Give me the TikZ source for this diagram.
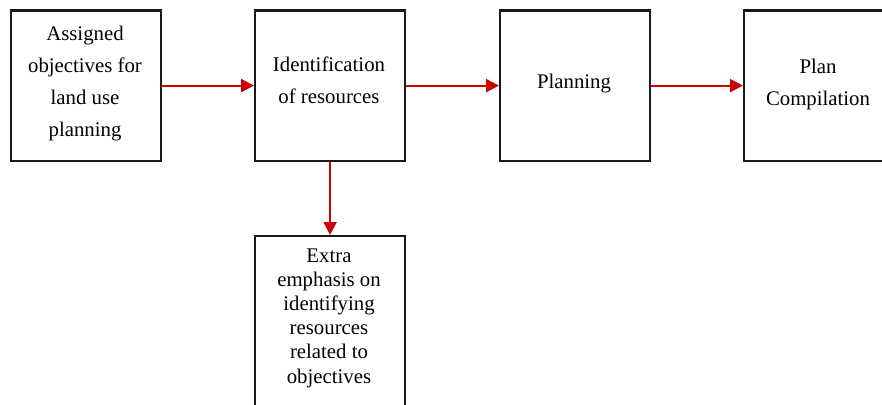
\documentclass[tikz,border=0pt]{standalone}
\usepackage{fontspec}
\setmainfont{Liberation Serif}
\usetikzlibrary{arrows.meta}
\definecolor{arrred}{RGB}{204,0,0}
\begin{document}
\begin{tikzpicture}[x=1pt,y=-1pt,
  box/.style={draw=black!90,line width=2.2pt,minimum width=150pt,minimum height=150pt,anchor=north west,inner sep=0pt},
  txt/.style={font=\fontsize{20.8}{32}\selectfont,align=center,inner sep=0pt},
  txtb/.style={font=\fontsize{20.8}{24.2}\selectfont,align=center,inner sep=0pt},
  conn/.style={draw=arrred,line width=2.2pt,-{Triangle[length=13pt,width=13pt]}}]
\useasboundingbox (0,0) rectangle (882,404);
\node[box] (b1) at (9.5,9.5) {};
\node[box] (b2) at (254,9.5) {};
\node[box] (b3) at (499,9.5) {};
\node[box] (b4) at (743,9.5) {};
\node[box,minimum height=180pt] (b5) at (254,235) {};
\node[txt] (t1) at (85,84) {Assigned\\objectives for\\land use\\planning};
\node[txt] (t2) at (329,80) {Identification\\of resources};
\node[txt] (t3) at (574,84) {Planning};
\node[txt] (t4) at (818,84) {Plan\\Compilation};
\node[txtb] (t5) at (329,318) {Extra\\emphasis on\\identifying\\resources\\related to\\objectives};
\draw[conn] (b1.east) -- (b2.west);
\draw[conn] (b2.east) -- (b3.west);
\draw[conn] (b3.east) -- (b4.west);
\draw[conn] (b2.south) -- (b5.north);
\end{tikzpicture}
\end{document}
